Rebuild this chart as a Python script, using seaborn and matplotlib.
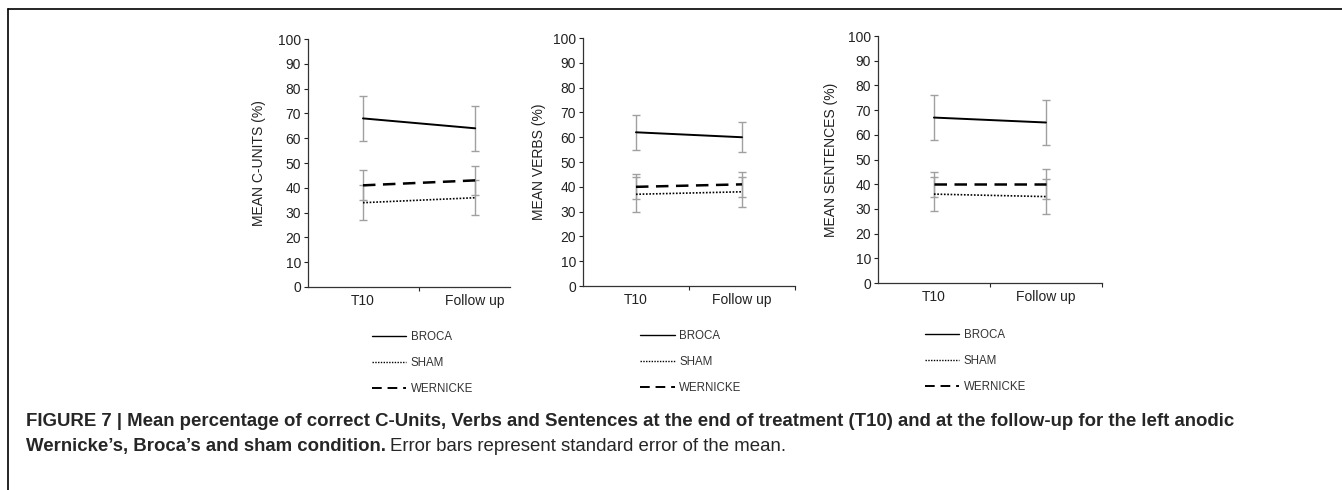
import numpy as np
import pandas as pd
import matplotlib
matplotlib.use("Agg")
import matplotlib.pyplot as plt
from matplotlib.lines import Line2D
import seaborn as sns

# values
timepoints = ["T10", "Follow up"]
conditions = ["BROCA", "SHAM", "WERNICKE"]
ylabels = ["MEAN C-UNITS (%)", "MEAN VERBS (%)", "MEAN SENTENCES (%)"]

cunits_mean = {"BROCA": [68, 64], "SHAM": [34, 36], "WERNICKE": [41, 43]}
cunits_err = {"BROCA": [9, 9], "SHAM": [7, 7], "WERNICKE": [6, 6]}
verbs_mean = {"BROCA": [62, 60], "SHAM": [37, 38], "WERNICKE": [40, 41]}
verbs_err = {"BROCA": [7, 6], "SHAM": [7, 6], "WERNICKE": [5, 5]}
sent_mean = {"BROCA": [67, 65], "SHAM": [36, 35], "WERNICKE": [40, 40]}
sent_err = {"BROCA": [9, 9], "SHAM": [7, 7], "WERNICKE": [5, 6]}

panels = [(cunits_mean, cunits_err), (verbs_mean, verbs_err), (sent_mean, sent_err)]

sns.set_style("white")
plt.rcParams['font.family'] = ['Liberation Sans', 'DejaVu Sans']

fig = plt.figure(figsize=(13.42, 4.9), dpi=100)

# axes boxes (figure fraction) and x ranges
boxes = [[0.2295, 0.4143, 0.1505, 0.506],
         [0.4344, 0.4163, 0.1580, 0.506],
         [0.6542, 0.4224, 0.1669, 0.504]]
xlims = [(-0.49, 1.31), (-0.5, 1.5), (-0.5, 1.5)]
ylab_x = [0.193, 0.402, 0.619]
leg_pos = [(0.277, 0.324), (0.477, 0.326), (0.689, 0.328)]

styles = {"BROCA": (1.4, (None, None)), "SHAM": (1.2, (1, 1)), "WERNICKE": (1.8, (5, 3))}

for i, (means, errs) in enumerate(panels):
    ax = fig.add_axes(boxes[i])
    rows = []
    for c in conditions:
        for j, t in enumerate(timepoints):
            rows.append({"x": j, "cond": c, "val": means[c][j], "err": errs[c][j]})
    df = pd.DataFrame(rows)

    for c in conditions:
        sub = df[df.cond == c]
        ax.errorbar(sub.x, sub.val, yerr=sub.err, fmt="none", ecolor="#a0a0a0",
                    elinewidth=1.0, capsize=3, capthick=1.0, zorder=1)
    for c in conditions:
        lw, dash = styles[c]
        sub = df[df.cond == c]
        sns.lineplot(data=sub, x="x", y="val", ax=ax, color="black",
                     linewidth=lw, legend=False, zorder=3)
        l = ax.lines[-1]
        if dash[0] is not None:
            l.set_dashes(dash)

    ax.set_xlim(*xlims[i])
    ax.set_ylim(0, 100)
    ax.set_yticks(range(0, 101, 10))
    ax.set_xticks([0.5, 1.5] if i > 0 else [0.5])
    ax.set_xticklabels([])
    for j, t in enumerate(timepoints):
        ax.text(j, -3, t, ha="center", va="top", fontsize=10, color="#222222",
                transform=ax.transData)
    ax.tick_params(axis="y", labelsize=10, colors="#222222", length=3, width=0.8,
                   left=True, direction="out", pad=2)
    ax.tick_params(axis="x", length=3, width=0.8, bottom=True, direction="out")
    ax.set_xlabel("")
    ax.set_ylabel("")
    for s in ["top", "right"]:
        ax.spines[s].set_visible(False)
    for s in ["left", "bottom"]:
        ax.spines[s].set_color("#333333")
        ax.spines[s].set_linewidth(0.9)
    fig.text(ylab_x[i], boxes[i][1] + boxes[i][3] / 2, ylabels[i], rotation=90,
             ha="center", va="center", fontsize=10, color="#222222")

    handles = []
    for c in conditions:
        lw, dash = styles[c]
        h = Line2D([0], [0], color="black", linewidth=1.0 if c != "WERNICKE" else 1.4)
        if dash[0] is not None:
            h.set_dashes(dash)
        handles.append(h)
    fig.legend(handles, conditions, loc="upper left", bbox_to_anchor=leg_pos[i],
               bbox_transform=fig.transFigure, frameon=False, fontsize=8.3,
               handlelength=3.0, handletextpad=0.4, labelspacing=1.2,
               borderpad=0, borderaxespad=0, labelcolor="#333333")

# frame lines on the page
fig.add_artist(Line2D([8 / 1342, 1], [1 - 9 / 490, 1 - 9 / 490], color="black",
                      linewidth=1.2, transform=fig.transFigure))
fig.add_artist(Line2D([8 / 1342, 8 / 1342], [0, 1 - 9 / 490], color="black",
                      linewidth=1.2, transform=fig.transFigure))

# caption
fig.text(26 / 1342, 1 - 421 / 490,
         "FIGURE 7 | Mean percentage of correct C-Units, Verbs and Sentences at the end of treatment (T10) and at the follow-up for the left anodic",
         fontsize=13.4, fontweight="bold", ha="left", va="center")
t = fig.text(26 / 1342, 1 - 446 / 490, "Wernicke\u2019s, Broca\u2019s and sham condition.",
             fontsize=13.4, fontweight="bold", ha="left", va="center")
fig.canvas.draw()
bb = t.get_window_extent()
fig.text(bb.x1 / fig.bbox.width + 4 / 1342, 1 - 446 / 490,
         "Error bars represent standard error of the mean.",
         fontsize=13.4, ha="left", va="center")

fig.savefig("out.png", dpi=100)
